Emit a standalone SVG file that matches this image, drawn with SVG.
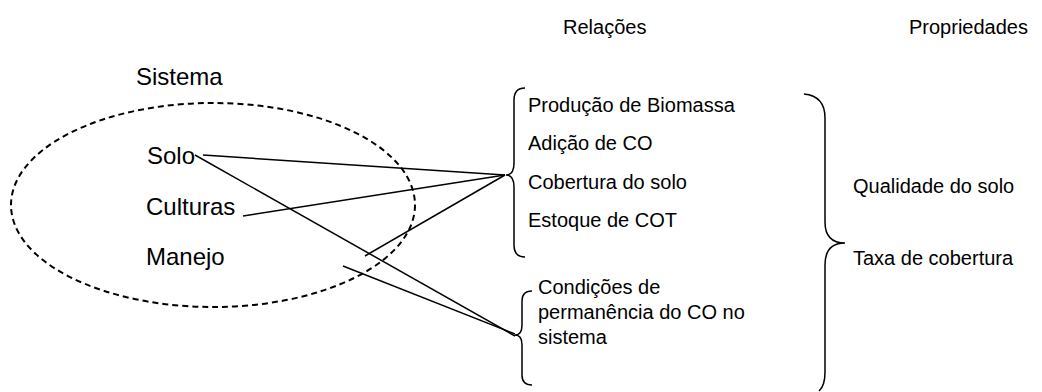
<svg xmlns="http://www.w3.org/2000/svg" width="1042" height="392" viewBox="0 0 1042 392">
<style>
.t{font-family:"Liberation Sans",Arial,sans-serif;fill:#000}
.l{font-size:24px}
.r{font-size:20px}
.ln{stroke:#000;stroke-width:1.5;fill:none}
.br{stroke:#000;stroke-width:1.5;fill:none}
</style>
<rect width="1042" height="392" fill="#fff"/>
<g id="headers">
<text class="t r" x="563" y="34">Relações</text>
<text class="t r" x="909" y="34">Propriedades</text>
</g>
<g id="sistema">
<ellipse cx="213" cy="205" rx="202" ry="102" fill="none" stroke="#000" stroke-width="2" stroke-dasharray="6,4"/>
<text class="t l" x="136" y="85">Sistema</text>
</g>
<g id="solo"><text class="t l" x="147" y="164">Solo</text></g>
<g id="culturas"><text class="t l" x="146" y="215">Culturas</text></g>
<g id="manejo"><text class="t l" x="146" y="265">Manejo</text></g>
<g id="relacoes1">
<path class="br" d="M525,88 Q514,88 514,100 L514,163 Q514,175 506,175 Q514,175 514,187 L514,245 Q514,257 525,257"/>
<text class="t r" x="528" y="112">Produção de Biomassa</text>
<text class="t r" x="528" y="150">Adição de CO</text>
<text class="t r" x="528" y="189">Cobertura do solo</text>
<text class="t r" x="528" y="227">Estoque de COT</text>
</g>
<g id="relacoes2">
<path class="br" d="M532,291 Q522,291 522,301 L522,325 Q522,335 515,335 Q522,335 522,345 L522,375 Q522,385 532,385"/>
<text class="t r" x="538" y="294">Condições de</text>
<text class="t r" x="538" y="319">permanência do CO no</text>
<text class="t r" x="538" y="344">sistema</text>
</g>
<g id="propriedades">
<path class="br" d="M804,94 Q825,96 825,118 L825,222 Q825,243 845,243 Q825,243 825,265 L825,372 Q825,386 819,391"/>
<text class="t r" x="853" y="193">Qualidade do solo</text>
<text class="t r" x="853" y="265">Taxa de cobertura</text>
</g>
<g id="connectors">
<line class="ln" x1="203" y1="155" x2="505" y2="175"/>
<line class="ln" x1="195" y1="155" x2="515" y2="336"/>
<line class="ln" x1="243" y1="216" x2="505" y2="175"/>
<line class="ln" x1="365" y1="256" x2="505" y2="175"/>
<line class="ln" x1="343" y1="266" x2="515" y2="334"/>
</g>
</svg>
